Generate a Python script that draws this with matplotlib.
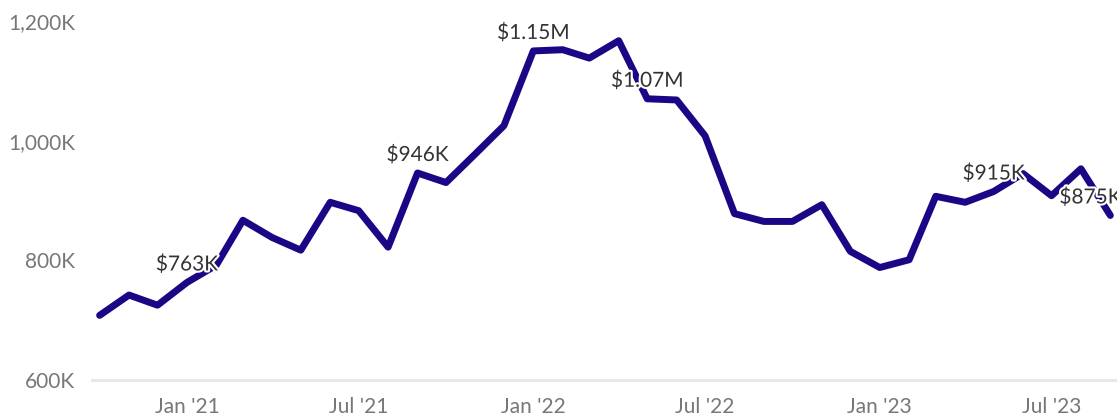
import numpy as np
import pandas as pd
import matplotlib
matplotlib.use("Agg")
import matplotlib.pyplot as plt
import matplotlib.patheffects as pe
from matplotlib.ticker import FuncFormatter

plt.rcParams["font.family"] = ["Lato", "DejaVu Sans"]

# monthly revenue, in thousands of dollars
months = pd.date_range("2020-10-01", periods=36, freq="MS")
revenue_k = [708, 742, 725, 763, 792, 867, 838, 817, 897, 883, 822, 946,
             930, 978, 1025, 1150, 1152, 1138, 1167, 1070, 1068, 1008, 878, 865,
             865, 893, 815, 788, 801, 907, 897, 915, 945, 908, 953, 875]

# which points carry a value label
label_idx = [3, 11, 15, 19, 31, 35]
label_txt = ["$763K", "$946K", "$1.15M", "$1.07M", "$915K", "$875K"]

tick_dates = pd.to_datetime(["2021-01-01", "2021-07-01", "2022-01-01",
                             "2022-07-01", "2023-01-01", "2023-07-01"])
tick_labels = ["Jan '21", "Jul '21", "Jan '22", "Jul '22", "Jan '23", "Jul '23"]
y_ticks = [600, 800, 1000, 1200]

fig = plt.figure(figsize=(11.17, 4.17), dpi=100)
ax = fig.add_axes([92 / 1117, 1 - 380 / 417, 1 - 92 / 1117, (380 - 21) / 417])

ax.plot(months, revenue_k, color="#1d0685", linewidth=5,
        solid_capstyle="round", solid_joinstyle="round", zorder=2)

halo = [pe.withStroke(linewidth=3, foreground="white")]
for i, txt in zip(label_idx, label_txt):
    dx = -20 if i == len(revenue_k) - 1 else 0
    ax.annotate(txt, (months[i], revenue_k[i]), xytext=(dx, 18),
                textcoords="offset pixels", ha="center", va="center",
                fontsize=15, color="#333333", path_effects=halo,
                zorder=3, annotation_clip=False)

ax.set_xlim(months[0] - pd.Timedelta(days=8), months[-1] + pd.Timedelta(days=7))
ax.set_ylim(600, 1200)
ax.set_yticks(y_ticks)
ax.yaxis.set_major_formatter(FuncFormatter(lambda v, p: f"{v:,.0f}K"))
ax.set_xticks(tick_dates)
ax.set_xticklabels(tick_labels)

ax.tick_params(axis="both", length=0, labelsize=15, labelcolor="#777777")
ax.tick_params(axis="x", pad=12)
ax.tick_params(axis="y", pad=12)

for s in ["top", "right", "left"]:
    ax.spines[s].set_visible(False)
ax.spines["bottom"].set_color("#e6e6e6")
ax.spines["bottom"].set_linewidth(2)

fig.savefig("out.png", dpi=100)
